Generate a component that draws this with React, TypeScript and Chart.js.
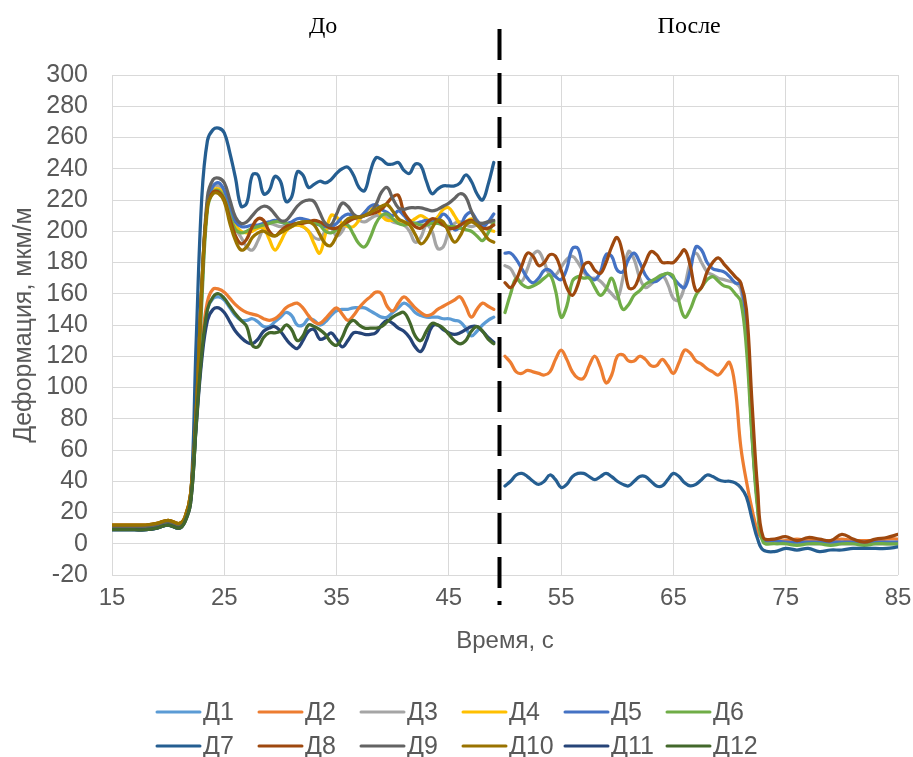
import React, { useEffect, useRef } from "react";
import { Chart, registerables } from "chart.js";

Chart.register(...registerables);

const FONT = "'Liberation Sans', Arial, sans-serif";
const SERIF = "'Liberation Serif', 'Times New Roman', serif";
const AXIS_TEXT = "#595959";
const GRID = "#d9d9d9";

// time, s
const TIME_BEFORE = [
  15, 16, 17, 18, 19, 20, 21,
  21.5, 22, 22.5, 23, 23.5, 24, 24.5, 25, 25.5, 26,
  26.5, 27, 27.5, 28, 28.5, 29, 29.5, 30, 30.5, 31,
  31.5, 32, 32.5, 33, 33.5, 34, 34.5, 35, 35.5, 36,
  36.5, 37, 37.5, 38, 38.5, 39, 39.5, 40, 40.5, 41,
  41.5, 42, 42.5, 43, 43.5, 44, 44.5, 45, 45.5, 46,
  46.5, 47, 47.5, 48, 48.5, 49,
];
const TIME_AFTER = [
  50, 50.5, 51, 51.5, 52, 52.5, 53, 53.5, 54, 54.5,
  55, 55.5, 56, 56.5, 57, 57.5, 58, 58.5, 59, 59.5,
  60, 60.5, 61, 61.5, 62, 62.5, 63, 63.5, 64, 64.5,
  65, 65.5, 66, 66.5, 67, 67.5, 68, 68.5, 69, 69.5,
  70, 70.5, 71, 71.5, 72, 72.5, 73,
  74, 75, 76, 77, 78, 79, 80, 81, 82, 83, 84, 85,
];
const DIVIDER_TIME = 49.5;
const X_TICKS = [15, 25, 35, 45, 55, 65, 75, 85];

const SENSOR_NAMES = ["Д1", "Д2", "Д3", "Д4", "Д5", "Д6", "Д7", "Д8", "Д9", "Д10", "Д11", "Д12"];
const SENSOR_COLORS = [
  "#5B9BD5", "#ED7D31", "#A5A5A5", "#FFC000", "#4472C4", "#70AD47",
  "#255E91", "#9E480E", "#636363", "#997300", "#264478", "#43682B",
];
const PERIOD_LABELS = ["До", "После"];

// deformation, µm/m — before
const D1_BEFORE = [9, 9, 9, 9, 10, 12, 10,
  15, 28, 78, 122, 150, 157, 158, 156, 151, 146,
  143, 143, 144, 142, 139, 139, 142, 145, 148, 146,
  140, 140, 144, 143, 140, 142, 146, 149, 150, 150,
  151, 151, 151, 149, 147, 145, 145, 148, 151, 154,
  152, 148, 146, 145, 145, 145, 144, 144, 143, 142,
  138, 133, 136, 140, 143, 145];
const D2_BEFORE = [10, 10, 10, 10, 11, 13, 11,
  15, 28, 80, 128, 155, 163, 163, 161, 157, 153,
  150, 148, 147, 146, 144, 143, 144, 147, 151, 153,
  154, 151, 146, 142, 141, 144, 148, 151, 147, 143,
  146, 151, 155, 158, 161, 160, 152, 149, 154, 158,
  155, 151, 148, 146, 147, 150, 152, 154, 156, 158,
  152, 145, 150, 154, 152, 150];
const D3_BEFORE = [11, 11, 11, 11, 12, 14, 12,
  16, 30, 80, 160, 218, 228, 229, 224, 212, 202,
  196, 190, 188, 194, 202, 205, 204, 203, 204, 205,
  204, 203, 200, 196, 195, 200, 202, 197, 200, 207,
  209, 207, 206, 208, 210, 210, 209, 206, 205, 204,
  200, 193, 196, 204, 200, 189, 190, 200, 205, 206,
  204, 203, 204, 205, 206, 205];
const D4_BEFORE = [12, 12, 12, 12, 13, 15, 13,
  17, 32, 85, 165, 218, 226, 227, 223, 213, 204,
  200, 199, 200, 202, 202, 195, 188, 193, 200, 203,
  204, 203, 200, 192, 186, 198, 210, 209, 205, 203,
  203, 207, 212, 215, 214, 210, 207, 207, 207, 206,
  206, 208, 210, 208, 206, 209, 214, 215, 210, 205,
  206, 208, 206, 203, 201, 200];
const D5_BEFORE = [11, 11, 11, 11, 12, 14, 12,
  16, 30, 80, 160, 218, 229, 231, 226, 214, 206,
  203, 203, 204, 204, 205, 206, 207, 206, 205, 206,
  208, 208, 207, 205, 204, 203, 203, 205, 209, 211,
  210, 209, 212, 216, 217, 214, 212, 210, 213, 210,
  206, 205, 206, 207, 206, 207, 211, 208, 201, 203,
  210, 212, 207, 203, 206, 211];
const D6_BEFORE = [10, 10, 10, 10, 11, 13, 11,
  15, 28, 78, 155, 214, 225, 226, 221, 210, 201,
  199, 200, 202, 203, 204, 205, 206, 206, 205, 204,
  205, 206, 206, 206, 204, 200, 199, 201, 204, 204,
  198, 192, 190, 196, 205, 210, 211, 208, 205, 204,
  205, 205, 204, 204, 205, 205, 204, 203, 203, 202,
  201, 200, 197, 194, 199, 206];
const D7_BEFORE = [9, 9, 9, 9, 10, 12, 10,
  15, 28, 130, 222, 258, 265, 266, 263, 250, 234,
  216, 218, 236, 236, 224, 226, 235, 232, 219, 222,
  238, 236, 228, 230, 232, 231, 233, 237, 240, 241,
  236, 228, 226, 238, 247, 246, 243, 243, 244, 239,
  237, 243, 242, 232, 224, 227, 229, 229, 229, 231,
  236, 232, 224, 220, 230, 244];
const D8_BEFORE = [12, 12, 12, 12, 13, 15, 13,
  17, 32, 85, 165, 217, 225, 225, 220, 208, 197,
  192, 195, 203, 208, 207, 200, 197, 200, 203, 204,
  205, 205, 206, 207, 206, 204, 202, 202, 204, 206,
  208, 209, 210, 211, 212, 214, 218, 222, 223, 212,
  207, 203, 202, 205, 208, 207, 204, 202, 202, 204,
  206, 207, 205, 202, 202, 204];
const D9_BEFORE = [11, 11, 11, 11, 12, 14, 12,
  16, 30, 85, 165, 222, 233, 234, 231, 220, 209,
  205, 206, 210, 214, 216, 215, 211, 207, 207, 211,
  216, 219, 220, 219, 212, 205, 204, 211, 218, 216,
  211, 209, 210, 212, 217, 225, 228, 221, 215, 214,
  215, 215, 215, 214, 213, 214, 216, 218, 221, 224,
  222, 213, 206, 205, 206, 207];
const D10_BEFORE = [12, 12, 12, 12, 13, 15, 13,
  17, 32, 85, 165, 216, 224, 224, 219, 205, 194,
  188, 190, 196, 199, 200, 198, 197, 199, 201, 203,
  205, 206, 206, 204, 198, 192, 191, 197, 204, 208,
  209, 209, 210, 212, 214, 216, 217, 213, 208, 206,
  204, 198, 192, 195, 202, 207, 206, 199, 193, 197,
  204, 206, 204, 200, 195, 193];
const D11_BEFORE = [9, 9, 9, 9, 10, 12, 10,
  14, 26, 75, 118, 143, 150, 151, 148, 142, 136,
  132, 129, 128, 131, 136, 138, 139, 136, 131, 127,
  125, 130, 136, 137, 131, 132, 135, 131, 126, 130,
  135, 135, 134, 134, 135, 140, 143, 141, 138, 136,
  132, 126, 123, 130, 139, 140, 137, 135, 134, 135,
  137, 139, 139, 136, 132, 129];
const D12_BEFORE = [9, 9, 9, 9, 10, 12, 10,
  14, 26, 76, 122, 150, 158, 160, 157, 152, 147,
  143, 139, 127, 126, 132, 135, 135, 136, 140, 137,
  130, 133, 140, 139, 137, 134, 129, 127, 132, 140,
  143, 140, 138, 138, 138, 139, 142, 145, 147, 148,
  142, 133, 130, 136, 141, 140, 138, 134, 130, 128,
  130, 136, 139, 136, 131, 128];

// deformation, µm/m — after
const D2_AFTER = [120, 116, 110, 109, 111, 110, 109, 108, 110, 118,
  124, 118, 110, 106, 106, 114, 120, 113, 103, 108,
  120, 121, 117, 117, 120, 118, 114, 114, 118, 114,
  109, 116, 124, 122, 117, 115, 112, 110, 108, 112,
  116, 100, 62, 40, 22, 8, 3,
  2, 2, 3, 2, 2, 2, 3, 2, 2, 2, 3, 3];
const D3_AFTER = [178, 176, 170, 168, 176, 185, 187, 180, 172, 172,
  177, 182, 184, 180, 174, 170, 170, 168, 164, 160,
  157, 170, 187, 182, 170, 164, 166, 170, 172, 166,
  157, 156, 165, 180, 186, 180, 174, 172, 170, 169,
  168, 167, 163, 132, 72, 25, 2,
  1, 0, 0, 0, 0, 0, 0, 0, 0, 0, 0, 0];
const D5_AFTER = [186, 186, 182, 176, 170, 167, 170, 175, 175, 171,
  169, 176, 189, 189, 176, 171, 169, 174, 185, 184,
  175, 174, 182, 186, 180, 172, 168, 168, 171, 173,
  170, 166, 164, 175, 190, 188, 180, 176, 175, 174,
  171, 167, 166, 140, 70, 25, 3,
  2, 1, 1, 1, 1, 1, 1, 1, 1, 1, 1, 1];
const D6_AFTER = [148, 160, 170, 166, 164, 165, 167, 170, 172, 162,
  145, 152, 168, 171, 170, 170, 164, 159, 163, 170,
  160, 150, 153, 159, 162, 166, 168, 170, 172, 173,
  171, 155, 145, 150, 159, 164, 169, 171, 168, 165,
  164, 160, 155, 125, 68, 22, 1,
  0, 0, -1, 0, 0, -1, 0, 0, -1, 0, 0, 0];
const D7_AFTER = [37, 40, 44, 45, 43, 40, 38, 40, 44, 41,
  36, 38, 43, 45, 45, 43, 41, 43, 45, 43,
  40, 38, 37, 40, 43, 43, 40, 37, 37, 41,
  45, 43, 39, 37, 38, 41, 44, 43, 41, 40,
  40, 39, 36, 30, 16, 3, -4,
  -5, -3, -4, -3, -5, -4, -4, -3, -3, -3, -3, -2];
const D8_AFTER = [167, 164, 169, 178, 186, 184, 178, 180, 185, 184,
  175, 164, 159, 166, 178, 180, 175, 173, 180, 190,
  196, 185, 164, 164, 172, 180, 187, 185, 180, 180,
  180, 184, 188, 178, 162, 164, 174, 180, 183, 179,
  175, 171, 167, 150, 90, 35, 4,
  3, 4.5, 2, 4, 3, 2, 6, 3, 1, 3, 4, 6];

const BEFORE = [D1_BEFORE, D2_BEFORE, D3_BEFORE, D4_BEFORE, D5_BEFORE, D6_BEFORE,
  D7_BEFORE, D8_BEFORE, D9_BEFORE, D10_BEFORE, D11_BEFORE, D12_BEFORE];
const AFTER: (number[] | null)[] = [null, D2_AFTER, D3_AFTER, null, D5_AFTER, D6_AFTER,
  D7_AFTER, D8_AFTER, null, null, null, null];

function buildPoints(i: number) {
  const pts: { x: number; y: number | null }[] = TIME_BEFORE.map((t, k) => ({ x: t, y: BEFORE[i][k] }));
  pts.push({ x: DIVIDER_TIME, y: null });
  const after = AFTER[i];
  if (after) TIME_AFTER.forEach((t, k) => pts.push({ x: t, y: after[k] }));
  return pts;
}

const overlayPlugin = {
  id: "overlay",
  afterDraw(chart: any) {
    const ctx = chart.ctx as CanvasRenderingContext2D;
    const xs = chart.scales.x;
    const area = chart.chartArea;
    ctx.save();

    // dashed divider between periods
    const dx = Math.round(xs.getPixelForValue(DIVIDER_TIME)) + 0.5;
    ctx.strokeStyle = "#000";
    ctx.lineWidth = 4;
    ctx.setLineDash([31, 13]);
    ctx.beginPath();
    ctx.moveTo(dx, area.top - 46);
    ctx.lineTo(dx, area.bottom + 30);
    ctx.stroke();
    ctx.setLineDash([]);

    // period labels
    ctx.fillStyle = "#000";
    ctx.font = `24px ${SERIF}`;
    ctx.textAlign = "center";
    ctx.textBaseline = "alphabetic";
    ctx.fillText(PERIOD_LABELS[0], xs.getPixelForValue(33.8), area.top - 42);
    ctx.fillText(PERIOD_LABELS[1], xs.getPixelForValue(66.4), area.top - 42);

    // legend (6 columns x 2 rows)
    const colW = 102;
    const x0 = 157;
    const rowY = [712, 746];
    ctx.font = `25px ${FONT}`;
    ctx.textAlign = "left";
    ctx.textBaseline = "middle";
    chart.data.datasets.forEach((ds: any, i: number) => {
      const col = i % 6;
      const row = Math.floor(i / 6);
      const lx = x0 + col * colW;
      const y = rowY[row];
      ctx.strokeStyle = ds.borderColor;
      ctx.lineWidth = 3;
      ctx.lineCap = "round";
      ctx.beginPath();
      ctx.moveTo(lx, y);
      ctx.lineTo(lx + 43, y);
      ctx.stroke();
      ctx.fillStyle = AXIS_TEXT;
      ctx.fillText(ds.label, lx + 46, y + 1);
    });
    ctx.restore();
  },
};

export default function App() {
  const ref = useRef<HTMLCanvasElement | null>(null);

  useEffect(() => {
    document.body.style.margin = "0";
    const canvas = ref.current;
    if (!canvas) return;
    const chart = new Chart(canvas, {
      type: "line",
      data: {
        datasets: SENSOR_NAMES.map((name, i) => ({
          label: name,
          data: buildPoints(i),
          borderColor: SENSOR_COLORS[i],
          backgroundColor: SENSOR_COLORS[i],
          borderWidth: 3.25,
          pointRadius: 0,
          tension: 0.4,
          fill: false,
          spanGaps: false,
          borderCapStyle: "round",
          borderJoinStyle: "round",
          order: SENSOR_NAMES.length - i,
        })),
      },
      options: {
        responsive: false,
        animation: false,
        events: [],
        layout: { padding: { left: 6, right: 15, top: 75, bottom: 97 } },
        plugins: {
          legend: { display: false },
          tooltip: { enabled: false },
          title: { display: false },
        },
        scales: {
          x: {
            type: "linear",
            min: 15,
            max: 85,
            afterBuildTicks: (s: any) => {
              s.ticks = X_TICKS.map((v) => ({ value: v }));
            },
            afterFit: (s: any) => {
              s.height = 85;
              s.paddingLeft = 0;
              s.paddingRight = 0;
            },
            grid: { color: GRID, lineWidth: 1, drawTicks: false },
            border: { display: false },
            ticks: {
              color: AXIS_TEXT,
              font: { size: 24, family: FONT },
              padding: 9,
              maxRotation: 0,
              autoSkip: false,
            },
            title: {
              display: true,
              text: "Время, с",
              color: AXIS_TEXT,
              font: { size: 24, family: FONT },
              padding: { top: 4, bottom: 4 },
            },
          },
          y: {
            type: "linear",
            min: -20,
            max: 300,
            afterFit: (s: any) => {
              s.width = 106;
            },
            grid: { color: GRID, lineWidth: 1, drawTicks: false },
            border: { display: false },
            ticks: {
              stepSize: 20,
              autoSkip: false,
              color: AXIS_TEXT,
              font: { size: 25, family: FONT },
              padding: 24,
            },
            title: {
              display: true,
              text: "Деформация, мкм/м",
              color: AXIS_TEXT,
              font: { size: 25, family: FONT },
              padding: { top: 3, bottom: 4 },
            },
          },
        },
      } as any,
      plugins: [overlayPlugin],
    });
    return () => chart.destroy();
  }, []);

  return (
    <div style={{ width: 913, height: 757 }}>
      <canvas ref={ref} width={913} height={757} style={{ display: "block" }} />
    </div>
  );
}
